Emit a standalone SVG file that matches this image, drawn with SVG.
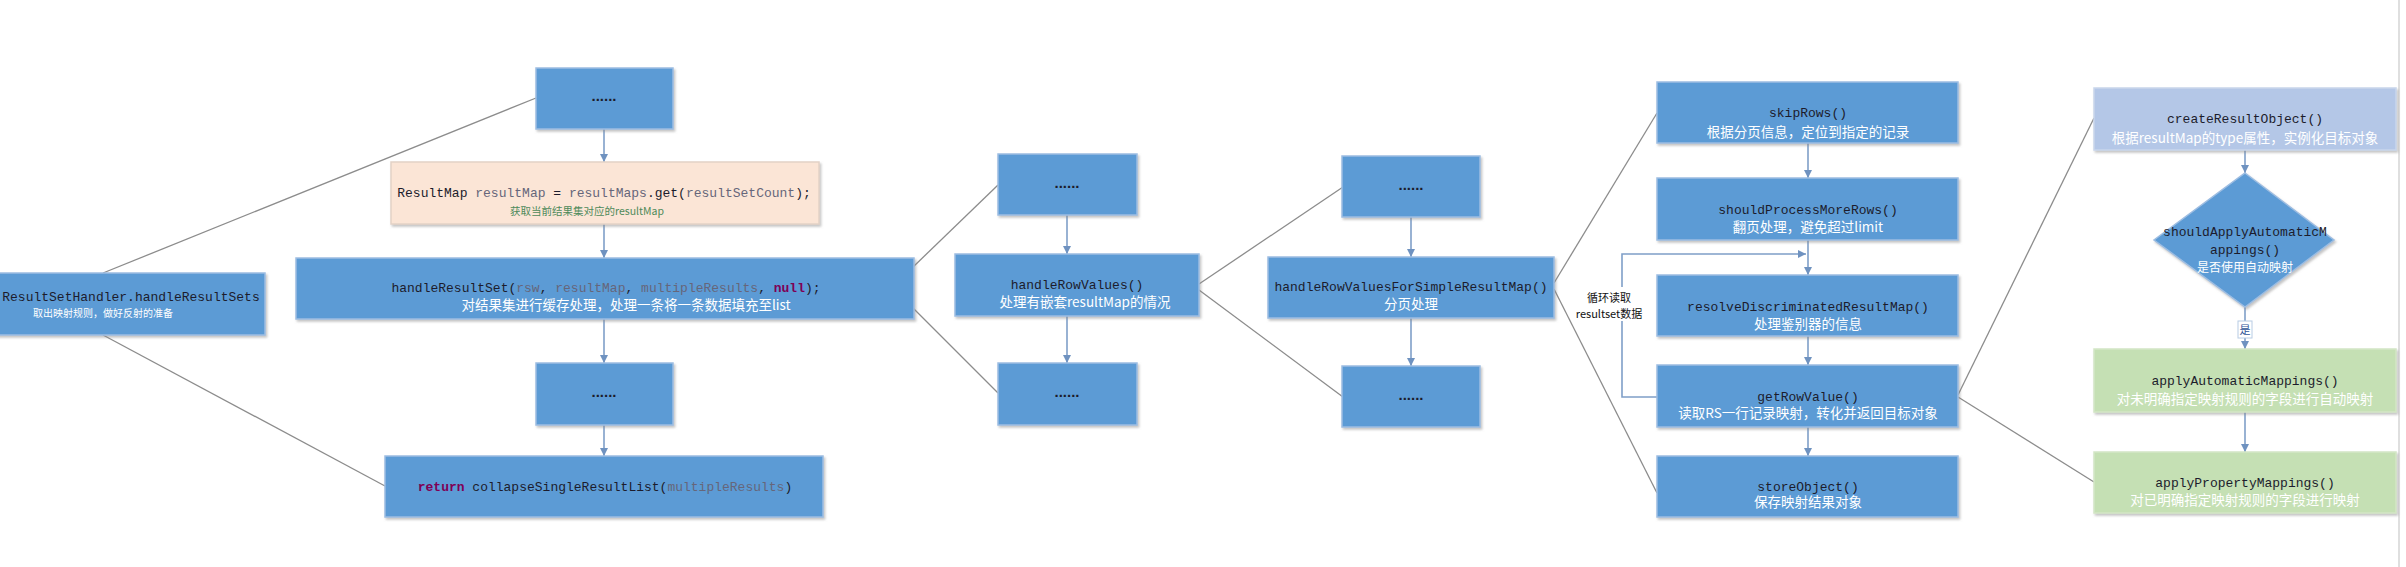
<svg xmlns="http://www.w3.org/2000/svg" width="2406" height="567" viewBox="0 0 2406 567">
<style>
.bx{fill:#5b9bd5;stroke:#9dbde2;stroke-width:1.5;filter:url(#sh)}
.pe{fill:#fbe5d6;stroke:#e3d2c6;stroke-width:1.5;filter:url(#sh)}
.lb{fill:#b4c7e7;stroke:#c9d6ec;stroke-width:1.5;filter:url(#sh)}
.gr{fill:#c5e0b4;stroke:#d3e6c6;stroke-width:1.5;filter:url(#sh)}
.t{font-family:"Liberation Mono","DejaVu Sans Mono","Noto Sans CJK SC",monospace;font-size:13px;fill:#1c1c2c;text-anchor:middle}
.s{font-family:"Noto Sans CJK SC","Noto Sans",sans-serif;font-size:13.5px;fill:#ffffff;text-anchor:middle}
.d{font-family:"Liberation Sans",Arial,sans-serif;font-size:15px;font-weight:bold;fill:#1c1c2c;text-anchor:middle}
.v{fill:#66667a}
.k{fill:#7f0055;font-weight:bold}
.ln{stroke:#8c8c8c;stroke-width:1.3;fill:none}
.ar{stroke:#7f9fc8;stroke-width:1.6;fill:none;marker-end:url(#ah)}
</style>
<defs>
<filter id="sh" x="-5%" y="-10%" width="110%" height="130%">
<feDropShadow dx="1.5" dy="2" stdDeviation="1" flood-color="#8a8a8a" flood-opacity="0.5"/>
</filter>
<marker id="ah" markerUnits="userSpaceOnUse" markerWidth="10" markerHeight="10" refX="8" refY="4" orient="auto">
<path d="M0,0 L8,4 L0,8 Z" fill="#6f92c0"/>
</marker>
</defs>
<rect x="0" y="0" width="2406" height="567" fill="#ffffff"/>
<line x1="2399" y1="0" x2="2399" y2="567" stroke="#d4d4d4" stroke-width="1.5"/>

<g id="connectors">
<line class="ln" x1="103" y1="273" x2="536" y2="98"/>
<line class="ln" x1="103" y1="335" x2="385" y2="486"/>
<line class="ln" x1="912" y1="268" x2="998" y2="185"/>
<line class="ln" x1="912" y1="307" x2="998" y2="393"/>
<line class="ln" x1="1199" y1="284" x2="1343" y2="187"/>
<line class="ln" x1="1199" y1="290" x2="1343" y2="397"/>
<line class="ln" x1="1554" y1="283" x2="1657" y2="113"/>
<line class="ln" x1="1554" y1="289" x2="1657" y2="493"/>
<line class="ln" x1="1958" y1="395" x2="2094" y2="118"/>
<line class="ln" x1="1958" y1="397" x2="2094" y2="482"/>
<line class="ar" x1="604" y1="129" x2="604" y2="162"/>
<line class="ar" x1="604" y1="224" x2="604" y2="258"/>
<line class="ar" x1="604" y1="319" x2="604" y2="363"/>
<line class="ar" x1="604" y1="425" x2="604" y2="456"/>
<line class="ar" x1="1067" y1="215" x2="1067" y2="254"/>
<line class="ar" x1="1067" y1="316" x2="1067" y2="363"/>
<line class="ar" x1="1411" y1="217" x2="1411" y2="257"/>
<line class="ar" x1="1411" y1="318" x2="1411" y2="366"/>
<line class="ar" x1="1808" y1="143" x2="1808" y2="178"/>
<line class="ar" x1="1808" y1="240" x2="1808" y2="275"/>
<line class="ar" x1="1808" y1="336" x2="1808" y2="365"/>
<line class="ar" x1="1808" y1="427" x2="1808" y2="456"/>
<polyline class="ar" points="1657,397 1622,397 1622,254 1806,254"/>
<line class="ar" x1="2245" y1="150" x2="2245" y2="173"/>
<line class="ar" x1="2245" y1="307" x2="2245" y2="349"/>
<line class="ar" x1="2245" y1="412" x2="2245" y2="452"/>
<g id="loop-label">
<rect x="1579" y="287" width="64" height="34" fill="#ffffff"/>
<text x="1609" y="302" font-family="'Noto Sans CJK SC',sans-serif" font-size="11" fill="#111111" text-anchor="middle">循环读取</text>
<text x="1609" y="318" font-family="'Noto Sans CJK SC',sans-serif" font-size="11" fill="#111111" text-anchor="middle">resultset数据</text>
</g>
<g id="yes-label">
<rect x="2238" y="321" width="14" height="17" fill="#ffffff" stroke="#b8cce4" stroke-width="1"/>
<text x="2245" y="334" font-family="'Noto Sans CJK SC',sans-serif" font-size="11" fill="#2f5597" text-anchor="middle">是</text>
</g>
</g>

<g id="n-handleResultSets">
<rect class="bx" x="-10" y="273" width="275" height="62"/>
<text class="t" x="131" y="301">ResultSetHandler.handleResultSets</text>
<text class="s" x="103" y="317" style="font-size:10px">取出映射规则，做好反射的准备</text>
</g>

<g id="n-dots1"><rect class="bx" x="536" y="68" width="137" height="61"/><text class="d" x="604" y="101">......</text></g>

<g id="n-resultMap">
<rect class="pe" x="391" y="162" width="428" height="62"/>
<text class="t" x="604" y="197">ResultMap<tspan class="v"> resultMap</tspan> = <tspan class="v">resultMaps</tspan>.get(<tspan class="v">resultSetCount</tspan>);</text>
<text class="s" x="587" y="215" style="font-size:10.5px;fill:#4e8a5a">获取当前结果集对应的resultMap</text>
</g>

<g id="n-handleResultSet">
<rect class="bx" x="296" y="258" width="618" height="61"/>
<text class="t" x="606" y="292">handleResultSet(<tspan class="v">rsw</tspan>, <tspan class="v">resultMap</tspan>, <tspan class="v">multipleResults</tspan>, <tspan class="k">null</tspan>);</text>
<text class="s" x="626" y="310">对结果集进行缓存处理，处理一条将一条数据填充至list</text>
</g>

<g id="n-dots2"><rect class="bx" x="536" y="363" width="137" height="62"/><text class="d" x="604" y="397">......</text></g>

<g id="n-return">
<rect class="bx" x="385" y="456" width="438" height="61"/>
<text class="t" x="605" y="491"><tspan class="k">return</tspan> collapseSingleResultList(<tspan class="v">multipleResults</tspan>)</text>
</g>

<g id="n-dots3"><rect class="bx" x="998" y="154" width="139" height="61"/><text class="d" x="1067" y="188">......</text></g>
<g id="n-handleRowValues">
<rect class="bx" x="955" y="254" width="244" height="62"/>
<text class="t" x="1077" y="289">handleRowValues()</text>
<text class="s" x="1085" y="307">处理有嵌套resultMap的情况</text>
</g>
<g id="n-dots4"><rect class="bx" x="998" y="363" width="139" height="62"/><text class="d" x="1067" y="397">......</text></g>

<g id="n-dots5"><rect class="bx" x="1342" y="156" width="138" height="61"/><text class="d" x="1411" y="190">......</text></g>
<g id="n-handleRowValuesForSimpleResultMap">
<rect class="bx" x="1268" y="257" width="286" height="61"/>
<text class="t" x="1411" y="291">handleRowValuesForSimpleResultMap()</text>
<text class="s" x="1411" y="309">分页处理</text>
</g>
<g id="n-dots6"><rect class="bx" x="1342" y="366" width="138" height="61"/><text class="d" x="1411" y="400">......</text></g>

<g id="n-skipRows">
<rect class="bx" x="1657" y="82" width="301" height="61"/>
<text class="t" x="1808" y="117">skipRows()</text>
<text class="s" x="1808" y="137">根据分页信息，定位到指定的记录</text>
</g>
<g id="n-shouldProcessMoreRows">
<rect class="bx" x="1657" y="178" width="301" height="62"/>
<text class="t" x="1808" y="214">shouldProcessMoreRows()</text>
<text class="s" x="1808" y="232">翻页处理，避免超过limit</text>
</g>
<g id="n-resolveDiscriminatedResultMap">
<rect class="bx" x="1657" y="275" width="301" height="61"/>
<text class="t" x="1808" y="311">resolveDiscriminatedResultMap()</text>
<text class="s" x="1808" y="329">处理鉴别器的信息</text>
</g>
<g id="n-getRowValue">
<rect class="bx" x="1657" y="365" width="301" height="62"/>
<text class="t" x="1808" y="401">getRowValue()</text>
<text class="s" x="1808" y="418">读取RS一行记录映射，转化并返回目标对象</text>
</g>
<g id="n-storeObject">
<rect class="bx" x="1657" y="456" width="301" height="61"/>
<text class="t" x="1808" y="491">storeObject()</text>
<text class="s" x="1808" y="507">保存映射结果对象</text>
</g>

<g id="n-createResultObject">
<rect class="lb" x="2094" y="88" width="302" height="62"/>
<text class="t" x="2245" y="123">createResultObject()</text>
<text class="s" x="2245" y="143">根据resultMap的type属性，实例化目标对象</text>
</g>
<g id="n-shouldApplyAutomaticMappings">
<polygon points="2245,173 2334,240 2245,307 2154,240" fill="#5b9bd5" stroke="#9dbde2" stroke-width="1.5" filter="url(#sh)"/>
<text class="t" x="2245" y="236">shouldApplyAutomaticM</text>
<text class="t" x="2245" y="254">appings()</text>
<text class="s" x="2245" y="272" style="font-size:12px">是否使用自动映射</text>
</g>
<g id="n-applyAutomaticMappings">
<rect class="gr" x="2094" y="349" width="302" height="63"/>
<text class="t" x="2245" y="385">applyAutomaticMappings()</text>
<text class="s" x="2245" y="404">对未明确指定映射规则的字段进行自动映射</text>
</g>
<g id="n-applyPropertyMappings">
<rect class="gr" x="2094" y="452" width="302" height="61"/>
<text class="t" x="2245" y="487">applyPropertyMappings()</text>
<text class="s" x="2245" y="505">对已明确指定映射规则的字段进行映射</text>
</g>
</svg>
